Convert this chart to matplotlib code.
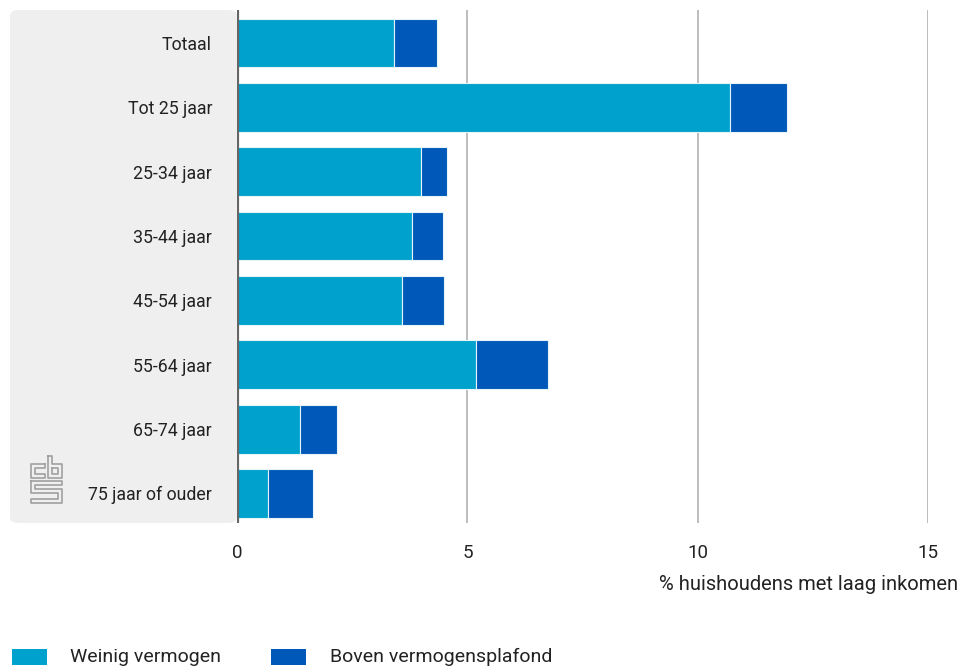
import numpy as np
import matplotlib.pyplot as plt
from matplotlib.patches import FancyBboxPatch, Rectangle

# data: % huishoudens met laag inkomen
categories = ['Totaal', 'Tot 25 jaar', '25-34 jaar', '35-44 jaar',
              '45-54 jaar', '55-64 jaar', '65-74 jaar', '75 jaar of ouder']
weinig = [3.4, 10.7, 4.0, 3.8, 3.58, 5.18, 1.37, 0.67]
boven = [0.95, 1.25, 0.55, 0.67, 0.91, 1.57, 0.80, 0.98]
xticks = [0, 5, 10, 15]
series_names = ['Weinig vermogen', 'Boven vermogensplafond']
colors = ['#00a1cd', '#0058b8']

plt.rcParams['font.family'] = ['Roboto', 'DejaVu Sans']
TC = '#222222'

W, H = 968, 669
fig = plt.figure(figsize=(W / 100, H / 100), dpi=100)

def fx(px):
    return px / W

def fy(py):
    return 1 - py / H

# grey panel behind category labels
panel = FancyBboxPatch((fx(10), fy(523)), fx(237) - fx(10), fy(10) - fy(523),
                       boxstyle='round,pad=0,rounding_size=0.009',
                       transform=fig.transFigure, facecolor='#efefef',
                       edgecolor='none', zorder=-5)
fig.patches.append(panel)

ax = fig.add_axes([fx(237), fy(523), fx(928) - fx(237), fy(10) - fy(523)])
ax.set_facecolor('none')

y = np.arange(len(categories))
ax.barh(y, weinig, height=0.76, color=colors[0], edgecolor='#e6f4fa',
        linewidth=0.8, label=series_names[0], zorder=3)
ax.barh(y, boven, left=weinig, height=0.76, color=colors[1], edgecolor='#e6f4fa',
        linewidth=0.8, label=series_names[1], zorder=3)

ax.set_xlim(0, 15)
ax.set_ylim(7.46, -0.513)
ax.set_xticks(xticks)
ax.set_xticklabels([str(v) for v in xticks], fontsize=13.5, color=TC)
ax.set_yticks(y)
ax.set_yticklabels(categories, fontsize=12.8, color=TC)
ax.tick_params(axis='both', length=0)
ax.tick_params(axis='y', pad=18)
ax.tick_params(axis='x', pad=15)
for s in ax.spines.values():
    s.set_visible(False)
for v in xticks[1:]:
    ax.axvline(v, color='#bdbdbd', lw=1.4, zorder=1)
ax.axvline(0, color='#666666', lw=3, zorder=4)

fig.text(fx(958), fy(585), '% huishoudens met laag inkomen', ha='right',
         va='center', fontsize=14.5, color=TC)

# legend
leg_items = [(12, 70), (271, 330)]
for (px, tx), name, c in zip(leg_items, series_names, colors):
    fig.patches.append(Rectangle((fx(px), fy(665)), fx(35), fy(649) - fy(665),
                                 transform=fig.transFigure, facecolor=c,
                                 edgecolor='none'))
    fig.text(fx(tx), fy(657), name, ha='left', va='center', fontsize=14,
             color=TC)

# simple cbs logo sketch (outlined letters)
lc = '#a0a0a0'
logo_paths = [
    # c
    ([45, 31, 31, 45, 45, 35, 35, 45, 45], [464, 464, 478, 478, 474, 474, 468, 468, 464]),
    # b
    ([48, 52, 52, 62, 62, 48, 48], [456, 456, 464, 464, 478, 478, 456]),
    ([52, 58, 58, 52, 52], [468, 468, 474, 474, 468]),
    # s
    ([31, 62, 62, 35, 35, 62, 62, 31, 31, 58, 58, 31, 31],
     [481, 481, 485, 485, 489, 489, 503, 503, 499, 499, 493, 493, 481]),
]
for xs, ys in logo_paths:
    fig.add_artist(plt.Line2D([fx(v) for v in xs], [fy(v) for v in ys],
                              transform=fig.transFigure, color=lc, lw=1.2))

fig.savefig('out.png', dpi=100)
